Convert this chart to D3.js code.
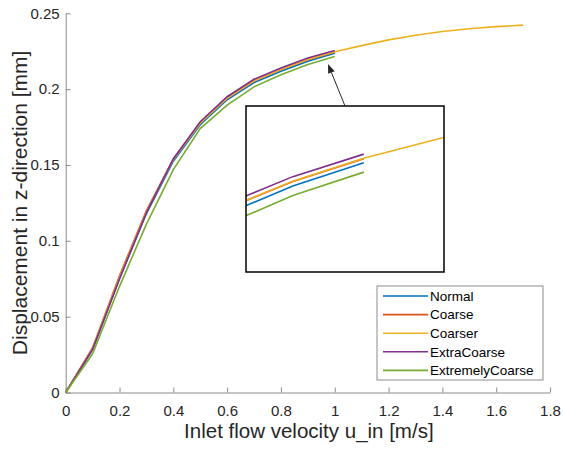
<!DOCTYPE html>
<html>
<head>
<meta charset="utf-8">
<script src="https://cdn.jsdelivr.net/npm/d3@7"></script>
<style>
  body { margin: 0; background: #fff; }
  text { font-family: Arial, "Liberation Sans", sans-serif; }
</style>
</head>
<body>
<svg id="chart" width="563" height="449"></svg>
<script>
// velocities [m/s]
const uIn = [0, 0.1, 0.2, 0.3, 0.4, 0.5, 0.6, 0.7, 0.8, 0.9, 1.0];
const uInCoarser = [0, 0.1, 0.2, 0.3, 0.4, 0.5, 0.6, 0.7, 0.8, 0.9, 1.0, 1.1, 1.2, 1.3, 1.4, 1.5, 1.6, 1.7];

// displacement [mm] per mesh
const normal = [0, 0.0285, 0.0750, 0.1180, 0.1525, 0.1765, 0.1930, 0.2043, 0.2118, 0.2184, 0.2236];
const coarse = [0, 0.0295, 0.0770, 0.1200, 0.1540, 0.1780, 0.1942, 0.2055, 0.2130, 0.2194, 0.2245];
const coarser = [0, 0.0290, 0.0760, 0.1190, 0.1535, 0.1775, 0.1940, 0.2055, 0.2130, 0.2195, 0.2246,
  0.2287, 0.2325, 0.2355, 0.2380, 0.2398, 0.2412, 0.2422];
const extraCoarse = [0, 0.0285, 0.0750, 0.1185, 0.1540, 0.1785, 0.1950, 0.2065, 0.2140, 0.2205, 0.2255];
const extremelyCoarse = [0, 0.0255, 0.0700, 0.1110, 0.1470, 0.1740, 0.1895, 0.2015, 0.2095, 0.2163, 0.2215];

const seriesNames = ["Normal", "Coarse", "Coarser", "ExtraCoarse", "ExtremelyCoarse"];
const seriesColors = ["#0072BD", "#D95319", "#EDB120", "#7E2F8E", "#77AC30"];

const xTicks = [0, 0.2, 0.4, 0.6, 0.8, 1, 1.2, 1.4, 1.6, 1.8];
const yTicks = [0, 0.05, 0.1, 0.15, 0.2, 0.25];

// zoomed region shown in the inset
const insetX = [0.834, 1.113];
const insetY = [0.1993, 0.2362];
const arrowTip = [0.975, 0.2165];

const series = [
  { name: seriesNames[0], x: uIn, y: normal },
  { name: seriesNames[1], x: uIn, y: coarse },
  { name: seriesNames[2], x: uInCoarser, y: coarser },
  { name: seriesNames[3], x: uIn, y: extraCoarse },
  { name: seriesNames[4], x: uIn, y: extremelyCoarse },
].map((s, i) => ({ ...s, color: seriesColors[i], pts: s.x.map((v, j) => [v, s.y[j]]) }));

const $svg = d3.select("#chart");
const mLeft = 65.7, mRight = 550, mTop = 13.3, mBottom = 392.5;

const x = d3.scaleLinear().domain([0, 1.8]).range([mLeft, mRight]);
const y = d3.scaleLinear().domain([0, 0.25]).range([mBottom, mTop]);

// axes
const xAxis = d3.axisBottom(x).tickValues(xTicks).tickFormat((d) => String(d))
  .tickSizeInner(-5).tickSizeOuter(0).tickPadding(13);
const yAxis = d3.axisLeft(y).tickValues(yTicks).tickFormat((d) => String(d))
  .tickSizeInner(-5).tickSizeOuter(0).tickPadding(6);

const $x = $svg.append("g").attr("transform", `translate(0,${mBottom})`).call(xAxis);
const $y = $svg.append("g").attr("transform", `translate(${mLeft},0)`).call(yAxis);
[$x, $y].forEach(($a) => {
  $a.select(".domain").attr("stroke", "#8c8c8c");
  $a.selectAll(".tick line").attr("stroke", "#8c8c8c");
  $a.selectAll(".tick text").attr("fill", "#262626").style("font-size", "15px");
});

// lines
const line = d3.line().x((d) => x(d[0])).y((d) => y(d[1]));
$svg.append("g").selectAll("path").data(series).join("path")
  .attr("d", (d) => line(d.pts))
  .attr("fill", "none")
  .attr("stroke", (d) => d.color)
  .attr("stroke-width", 1.6);

// axis titles
$svg.append("text")
  .attr("x", (mLeft + mRight) / 2 + 1)
  .attr("y", 438)
  .attr("text-anchor", "middle")
  .attr("fill", "#262626")
  .style("font-size", "20.5px")
  .text("Inlet flow velocity u_in [m/s]");

$svg.append("text")
  .attr("transform", `translate(27,${(mTop + mBottom) / 2}) rotate(-90)`)
  .attr("text-anchor", "middle")
  .attr("fill", "#262626")
  .style("font-size", "21px")
  .text("Displacement in z-direction [mm]");

// inset
const ix0 = 246, iy0 = 106, iw = 198, ih = 166;
const xi = d3.scaleLinear().domain(insetX).range([ix0, ix0 + iw]);
const yi = d3.scaleLinear().domain(insetY).range([iy0 + ih, iy0]);

$svg.append("defs").append("clipPath").attr("id", "inset-clip")
  .append("rect").attr("x", ix0).attr("y", iy0).attr("width", iw).attr("height", ih);

$svg.append("rect")
  .attr("x", ix0).attr("y", iy0).attr("width", iw).attr("height", ih)
  .attr("fill", "#fff");

const lineInset = d3.line().x((d) => xi(d[0])).y((d) => yi(d[1]));
$svg.append("g").attr("clip-path", "url(#inset-clip)")
  .selectAll("path").data(series).join("path")
  .attr("d", (d) => lineInset(d.pts))
  .attr("fill", "none")
  .attr("stroke", (d) => d.color)
  .attr("stroke-width", 1.6);

$svg.append("rect")
  .attr("x", ix0).attr("y", iy0).attr("width", iw).attr("height", ih)
  .attr("fill", "none").attr("stroke", "#000").attr("stroke-width", 1.5);

// arrow from inset to the zoomed spot
const tx = x(arrowTip[0]), ty = y(arrowTip[1]);
const sx = 345, sy = iy0;
const ang = Math.atan2(ty - sy, tx - sx);
const hl = 9, hw = 3.5;
const bx = tx - hl * Math.cos(ang), by = ty - hl * Math.sin(ang);
$svg.append("line")
  .attr("x1", sx).attr("y1", sy).attr("x2", bx).attr("y2", by)
  .attr("stroke", "#262626").attr("stroke-width", 1);
$svg.append("path")
  .attr("d", `M${tx},${ty}L${bx + hw * Math.sin(ang)},${by - hw * Math.cos(ang)}L${bx - hw * Math.sin(ang)},${by + hw * Math.cos(ang)}Z`)
  .attr("fill", "#262626");

// legend
const lx = 377, ly = 286, lw = 166, lh = 94, rowH = 18.6;
const $leg = $svg.append("g");
$leg.append("rect")
  .attr("x", lx).attr("y", ly).attr("width", lw).attr("height", lh)
  .attr("fill", "#fff").attr("stroke", "#8c8c8c").attr("stroke-width", 1);
const $rows = $leg.selectAll("g.row").data(series).join("g")
  .attr("class", "row")
  .attr("transform", (d, i) => `translate(${lx},${ly + 10 + i * rowH})`);
$rows.append("line")
  .attr("x1", 6).attr("x2", 51).attr("y1", 0).attr("y2", 0)
  .attr("stroke", (d) => d.color).attr("stroke-width", 1.6);
$rows.append("text")
  .attr("x", 53).attr("y", 0).attr("dy", "0.35em")
  .attr("fill", "#000")
  .style("font-size", "13.5px")
  .text((d) => d.name);
</script>
</body>
</html>
